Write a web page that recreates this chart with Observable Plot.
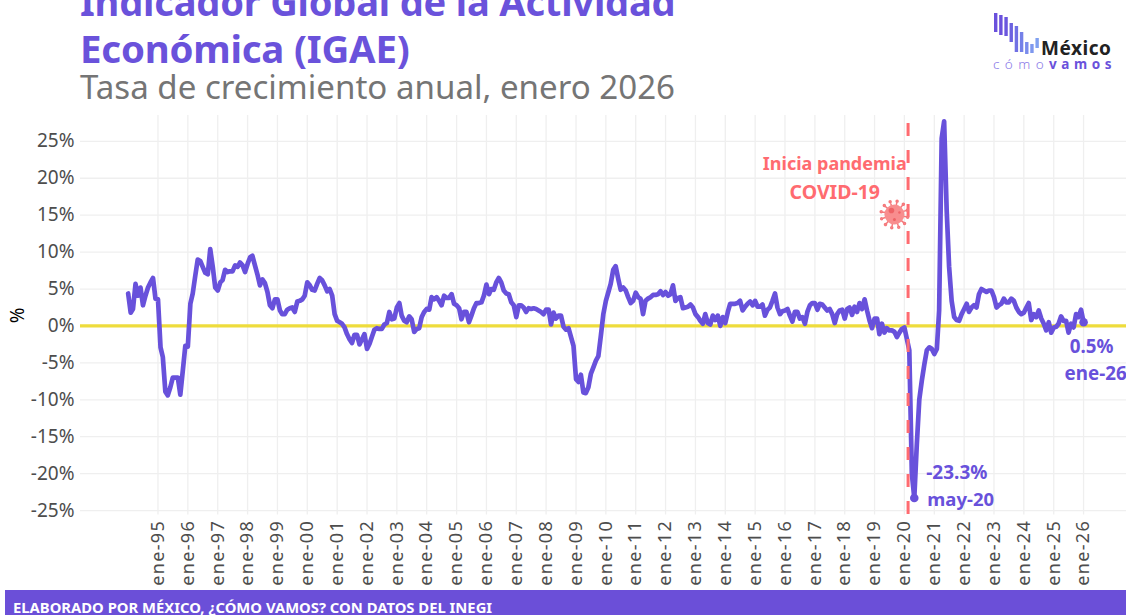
<!DOCTYPE html>
<html>
<head>
<meta charset="utf-8">
<script src="https://cdn.jsdelivr.net/npm/d3@7"></script>
<script src="https://cdn.jsdelivr.net/npm/@observablehq/plot@0.6"></script>
<style>
html,body{margin:0;padding:0;background:#fff;overflow:hidden}
body{width:1126px;height:615px;position:relative;font-family:"Noto Sans",sans-serif}
#head{position:relative;height:110px;width:1126px;overflow:hidden}
#t1,#t2,#t3{position:absolute;left:80px;white-space:nowrap}
#t1,#t2{color:#6A52DB;font-weight:700;font-size:38.4px;line-height:36px}
#t1{top:-17px;font-size:38.1px;letter-spacing:-.2px}
#t2{top:30px;letter-spacing:-.2px}
#t3{top:69px;color:#757575;font-size:33.1px;line-height:36px;font-weight:400}
#chart{height:480px;width:1126px}
#chart svg{display:block}
#chart g[aria-label="x-axis tick label"] text{letter-spacing:1.3px}
#foot{position:absolute;left:5px;top:590px;width:1121px;height:25px;background:#6B4FD8;color:#fff;font-weight:700;font-size:14.8px;line-height:35px;padding-left:8px;box-sizing:border-box;overflow:hidden;white-space:nowrap}
#logo{position:absolute;left:985px;top:5px}
</style>
</head>
<body>
<div id="head">
  <div id="t1">Indicador Global de la Actividad</div>
  <div id="t2">Económica (IGAE)</div>
  <div id="t3">Tasa de crecimiento anual, enero 2026</div>
</div>
<div id="chart"></div>
<div id="foot">ELABORADO POR MÉXICO, ¿CÓMO VAMOS? CON DATOS DEL INEGI</div>
<svg id="logo" width="135" height="70"></svg>
<script>
const y1994=[4.4,1.8,2.3,5.7,4.1,5.2,2.8,4.1,5.2,5.9,6.5,3.7];
const y1995=[3.6,-2.9,-4.2,-8.9,-9.4,-8.3,-7,-7,-7,-9.3,-6,-2.7];
const y1996=[-2.8,3,4.4,6.8,9,8.8,8,7.2,7,10.4,8,5.2];
const y1997=[4.8,5.9,6.2,7.6,7.3,7.4,7.4,8.2,8,8.6,8.2,7.3];
const y1998=[8.4,9.3,9.5,8.2,7,5.5,6.3,5.8,4.6,2.8,2.4,3.6];
const y1999=[3.6,2.1,1.6,1.6,2.2,2.4,2.5,1.9,3.3,3.4,3.6,4.1];
const y2000=[5.9,5.5,4.9,4.8,5.7,6.5,6.2,5.5,4.7,5,4.1,1.6];
const y2001=[0.7,0.5,0.3,-0.2,-1.1,-1.8,-2.3,-1.2,-1.2,-2.5,-1.8,-1.1];
const y2002=[-3.1,-2.4,-1.5,-0.5,-0.3,-0.4,-0.4,0.2,0.4,1.9,0.9,1];
const y2003=[2.5,3.1,1.4,0.7,0.5,1.3,0.9,-0.8,-0.4,-0.3,1.2,1.9];
const y2004=[2.3,2.2,3.9,3.6,3.9,3.4,2.8,4.1,3.8,3.8,4.3,3];
const y2005=[2.8,2.4,0.9,1.9,1.9,0.5,1.4,2.4,3.1,3.1,3.2,4.1];
const y2006=[5.6,4.3,5,4.9,5.9,6.5,5.9,4.8,4.4,4.3,3.2,2.8];
const y2007=[1.2,2.8,2.8,2.5,1.9,2.4,2.3,2.4,2.3,2.1,1.9,1.6];
const y2008=[2.2,2.2,0.2,1.8,1,1.4,1.4,-0.1,-0.5,-0.3,-1.5,-2.7];
const y2009=[-7.2,-7.6,-6.6,-9,-9.1,-8.3,-6.5,-5.6,-4.7,-4.1,-1.3,1.6];
const y2010=[3.4,4.6,5.7,7.6,8.1,6.4,4.9,5.2,4.8,3.9,3.1,3.4];
const y2011=[4.5,3.9,3.7,1.6,3.4,3.7,3.9,4.2,4.2,4.3,4.7,4.2];
const y2012=[4.6,4.1,4.3,5.5,3.4,3.8,3.9,2.4,2.5,2.6,2.9,2.5];
const y2013=[1.6,1.2,0.7,0.3,1.6,0.4,0.2,1.4,0.8,1.4,0,1.2];
const y2014=[0.4,1.9,3,3,3,3.1,3.4,2.1,2.6,3,3.3,2.8];
const y2015=[3.4,2.6,2.6,2.9,1.4,2.2,2.5,3.4,4.4,2.5,1.6,2];
const y2016=[2.1,2.3,1.4,0.6,1.9,1.9,1,1.2,0.3,1.9,2.8,3.1];
const y2017=[3.1,2.2,3,2.9,2.5,2.1,2.3,1.6,0.4,1.6,2.1,2.2];
const y2018=[1,2.3,2.5,1.5,2.6,1.9,3.1,2.3,3.6,2.1,0.7,-0.3];
const y2019=[1,1,-1.1,0.3,-0.9,-0.3,-0.6,-0.6,-0.8,-1.5,-0.9,-0.4];
const y2020=[-0.2,-1.8,-3.3,-20,-23.3,-16,-10,-7.4,-5.2,-3.3,-2.9,-3.1];
const y2021=[-3.8,-3.1,2.1,25.4,27.7,15.7,8,3.4,1.2,0.8,0.7,1.6];
const y2022=[2.3,3,1.9,2.5,2.8,2.5,4.3,5,4.8,4.6,4.8,4.8];
const y2023=[3.9,2.5,2.8,3,3.7,3.2,3.2,3.7,3.4,2.5,1.9,1.6];
const y2024=[1.8,2.5,3.1,0.8,1.6,1.2,2.1,1,0.3,-0.6,0.5,-0.9];
const y2025=[-0.2,-0.1,0.3,1.3,0.7,0.7,-0.9,0.3,-0.2,1.6,1.2,2.2];
const y2026=[0.5];
const values=[...y1994,...y1995,...y1996,...y1997,...y1998,...y1999,...y2000,...y2001,...y2002,...y2003,...y2004,...y2005,...y2006,...y2007,...y2008,...y2009,...y2010,...y2011,...y2012,...y2013,...y2014,...y2015,...y2016,...y2017,...y2018,...y2019,...y2020,...y2021,...y2022,...y2023,...y2024,...y2025,...y2026];
const series=values.map((v,i)=>({date:new Date(Date.UTC(1994,i,1)),v}));
const yearTicks=d3.range(1995,2027).map(y=>new Date(Date.UTC(y,0,1)));
const yTicks=d3.range(-25,30,5);
const PURPLE="#6851DB", RED="#FF6B70", GRID="#EFEFEF", FF="'Noto Sans',sans-serif";
const lows=[{date:new Date(Date.UTC(2020,4,1)),v:-23.3},{date:new Date(Date.UTC(2026,0,1)),v:0.5}];
const pandemia=new Date(Date.UTC(2020,1,15));
const virusAt=[{date:new Date(Date.UTC(2019,8,1)),v:15.1}];
const noteLabels=[
  {text:"Inicia pandemia",date:new Date(Date.UTC(2017,8,1)),v:21.9,size:18,dx:0,anchor:"middle",fill:RED},
  {text:"COVID-19",date:new Date(Date.UTC(2017,8,1)),v:18.1,size:19.5,dx:0,anchor:"middle",fill:RED},
  {text:"-23.3%",date:new Date(Date.UTC(2020,4,1)),v:-19.9,size:19,dx:12,anchor:"start",fill:PURPLE},
  {text:"may-20",date:new Date(Date.UTC(2020,4,1)),v:-23.6,size:18.5,dx:13,anchor:"start",fill:PURPLE},
  {text:"0.5%",date:new Date(Date.UTC(2026,0,1)),v:-2.8,size:18.8,dx:8,anchor:"middle",fill:PURPLE},
  {text:"ene-26",date:new Date(Date.UTC(2026,0,1)),v:-6.5,size:18.8,dx:12,anchor:"middle",fill:PURPLE}
];

// virus spikes as a custom symbol
const spikes={draw(ctx,size){
  const r=Math.sqrt(size/Math.PI);
  for(let a=0;a<12;a++){
    const t=a*Math.PI/6+.2,c=Math.cos(t),s=Math.sin(t);
    ctx.moveTo(c*r*.6,s*r*.6);ctx.lineTo(c*r,s*r);
    ctx.moveTo(c*r+1,s*r);ctx.arc(c*r,s*r,1,0,2*Math.PI);
  }
}};

const chart=Plot.plot({
  width:1126,height:480,marginTop:5,marginBottom:75.5,marginLeft:80,marginRight:0,
  style:{fontFamily:FF,background:"#fff",overflow:"visible"},
  x:{type:"utc",domain:[new Date(Date.UTC(1992,4,28)),new Date(Date.UTC(2027,5,10))],range:[80,1126]},
  y:{domain:[-25.6,28.5],range:[404.5,5]},
  marks:[
    Plot.gridX(yearTicks,{stroke:GRID,strokeOpacity:1,strokeWidth:1.3}),
    Plot.gridY(yTicks,{stroke:GRID,strokeOpacity:1,strokeWidth:1.3}),
    Plot.axisY(yTicks,{tickSize:0,tickPadding:6,fontSize:19,fill:"#4d4d4d",tickFormat:d=>d+"%",label:null}),
    Plot.axisY([],{tickSize:0,fontSize:19,fill:"#000",label:"%",labelAnchor:"center",labelArrow:"none",labelOffset:70}),
    Plot.axisX(yearTicks,{tickSize:0,tickPadding:5,fontSize:18,fill:"#4d4d4d",tickRotate:-90,tickFormat:d=>"ene-"+String(d.getUTCFullYear()).slice(2),label:null}),
    Plot.ruleY([0],{stroke:"#EEDC3C",strokeWidth:3.2}),
    Plot.line(series,{x:"date",y:"v",stroke:PURPLE,strokeWidth:4.7,strokeLinejoin:"round",strokeLinecap:"round"}),
    Plot.ruleX([pandemia],{stroke:RED,strokeWidth:3,strokeDasharray:"13,14",strokeDashoffset:19}),
    Plot.dot(lows,{x:"date",y:"v",r:4.3,fill:PURPLE}),
    Plot.dot(virusAt,{x:"date",y:"v",symbol:spikes,r:13.5,stroke:"#F5787B",strokeWidth:1.5,fill:"none"}),
    Plot.dot(virusAt,{x:"date",y:"v",r:10,fill:"#F88D8E"}),
    Plot.dot(virusAt,{x:"date",y:"v",r:2.8,dx:-3,dy:-4,fill:"#EE6366"}),
    Plot.dot(virusAt,{x:"date",y:"v",r:1.5,dx:0,dy:5,fill:"#EE6366"}),
    Plot.dot(virusAt,{x:"date",y:"v",r:1.2,dx:5,dy:-2,fill:"#EE6366"}),
    ...noteLabels.map(n=>Plot.text([n],{x:"date",y:"v",text:"text",dx:n.dx,fill:n.fill,fontSize:n.size,fontWeight:700,textAnchor:n.anchor}))
  ]
});
document.getElementById("chart").appendChild(chart);

// logo
const logoBars=[[13,32],[15,35],[17,36],[23,42],[26,52],[32,52],[42,54],[44,53],[38,48]];
const logoCols=["#6A50DC","#6A50DC","#6A56DE","#6C62E0","#7070E4","#7480E8","#7A8CEC","#7E98EE","#80A0F0"];
const logo=d3.select("#logo");
logoBars.forEach((b,i)=>logo.append("rect").attr("x",9+i*5.18).attr("y",b[0]-5).attr("width",3.4).attr("height",b[1]-b[0]).attr("fill",logoCols[i]));
logo.append("text").attr("x",56).attr("y",50).attr("font-family",FF).attr("font-weight",700).attr("font-size",19).attr("fill","#222").attr("textLength",70).text("México");
const tl=logo.append("text").attr("x",8).attr("y",63.5).attr("font-family",FF).attr("font-size",13.5).attr("fill","#6A52DB");
tl.append("tspan").attr("font-weight",300).attr("fill","#8C7BE8").attr("letter-spacing","5.4px").text("cómo");
tl.append("tspan").attr("font-weight",700).attr("letter-spacing","4.6px").text("vamos");
</script>
</body>
</html>
